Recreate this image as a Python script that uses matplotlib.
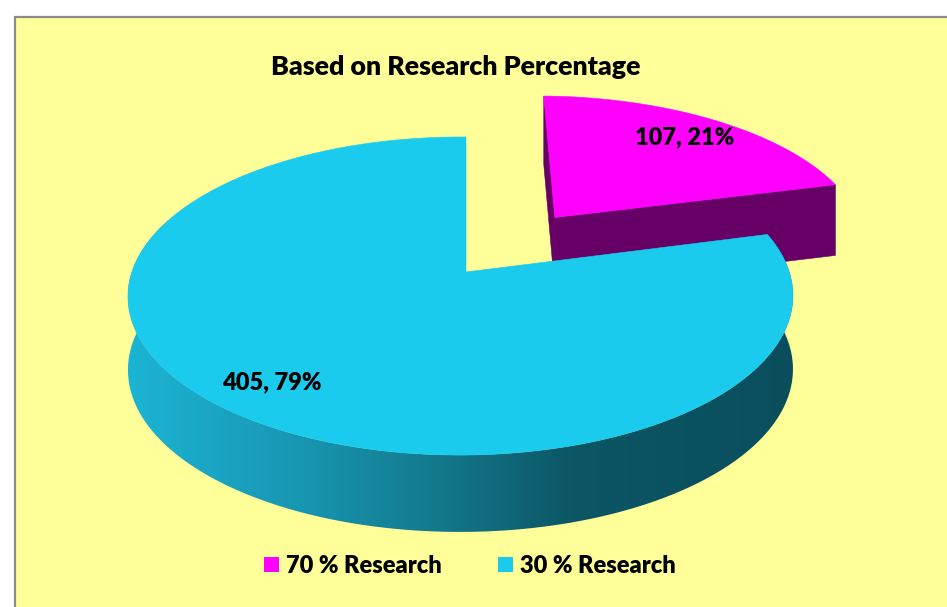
import matplotlib
matplotlib.use("Agg")
import matplotlib.patches as mpatches
import matplotlib.pyplot as plt
import numpy as np
from matplotlib.colors import LinearSegmentedColormap


TITLE = "Based on Research Percentage"
CATEGORIES = ["70 % Research", "30 % Research"]
VALUES = [107, 405]
PERCENTS = [21, 79]

TOP_COLORS = ["#FF00FF", "#1ACBED"]
WALL_COLOR = "#660066"
BG = "#FFFF99"

# pseudo 3d view of the pie, all in pixel units of the 947x607 canvas
CX, CY = 466.0, 272.0
A, B = 328.6, 155.4
K_Y, K_X, K_D = 0.151, 0.0165, 0.05
DEPTH = 73.0
EXPLODE = [0.47, 0.0]
LABEL_R = 0.8

side_cmap = LinearSegmentedColormap.from_list(
    "side",
    [(0.0, "#1CB4D4"), (0.25, "#1897B3"), (0.48, "#127688"), (0.66, "#0C5665"), (1.0, "#0A4E5C")],
)


def project(u, v, t=0.0):
    u = np.asarray(u, dtype=float)
    v = np.asarray(v, dtype=float)
    s = 1.0 / (1.0 + K_Y * v + K_X * u)
    sd = 1.0 / (1.0 + K_D * v)
    return CX + A * u * s, CY - B * v * s + DEPTH * t * sd


def arc(ox, oy, th1, th2, n=200):
    th = np.radians(np.linspace(th1, th2, n))
    return ox + np.cos(th), oy + np.sin(th)


def poly(ax, xs, ys, color, z):
    p = mpatches.Polygon(np.column_stack([xs, ys]), closed=True, facecolor=color,
                         edgecolor=color, lw=0.4, zorder=z)
    ax.add_patch(p)
    return p


def radial_wall(ax, ox, oy, th, color, z):
    ex, ey = ox + np.cos(np.radians(th)), oy + np.sin(np.radians(th))
    x1, y1 = project([ox, ex], [oy, ey], 0.0)
    x2, y2 = project([ex, ox], [ey, oy], 1.0)
    poly(ax, np.r_[x1, x2], np.r_[y1, y2], color, z)


def top_face(ax, ox, oy, th1, th2, color, z):
    u, v = arc(ox, oy, th1, th2)
    xs, ys = project(np.r_[ox, u], np.r_[oy, v], 0.0)
    poly(ax, xs, ys, color, z)


def plot():
    fig = plt.figure(figsize=(9.47, 6.07), dpi=100)
    ax = fig.add_axes([0, 0, 1, 1])
    ax.set_xlim(0, 947)
    ax.set_ylim(607, 0)
    ax.axis("off")

    ax.add_patch(mpatches.Rectangle((15, 17), 940, 600, facecolor=BG,
                                    edgecolor="#8C8C8C", lw=1.6, zorder=0))
    font = {"family": "Lato", "weight": "heavy"}

    total = sum(VALUES)
    starts = []
    ang = 90.0
    for val in VALUES:
        span = 360.0 * val / total
        starts.append((ang, ang - span))
        ang -= span

    # slice 0 (exploded, behind)
    th1, th2 = starts[0]
    mid = np.radians((th1 + th2) / 2)
    ox, oy = EXPLODE[0] * np.cos(mid), EXPLODE[0] * np.sin(mid)
    radial_wall(ax, ox, oy, th1, WALL_COLOR, 2)
    radial_wall(ax, ox, oy, th2, WALL_COLOR, 2)
    top_face(ax, ox, oy, th1, th2, TOP_COLORS[0], 3)
    lx, ly = project(ox + LABEL_R * np.cos(mid), oy + LABEL_R * np.sin(mid))
    ax.text(lx, ly, f"{VALUES[0]}, {PERCENTS[0]}%", ha="center", va="center",
            fontsize=17, zorder=10, **font)

    # slice 1 (front), outer wall with horizontal shading
    th1, th2 = starts[1]
    mid = np.radians((th1 + th2) / 2)
    ox, oy = EXPLODE[1] * np.cos(mid), EXPLODE[1] * np.sin(mid)
    u, v = arc(ox, oy, max(th2, -200.0), th1, 300)
    xt, yt = project(u, v, 0.0)
    xb, yb = project(u, v, 1.0)
    wall = mpatches.Polygon(np.column_stack([np.r_[xt, xb[::-1]], np.r_[yt, yb[::-1]]]),
                            closed=True, facecolor="none", edgecolor="none")
    ax.add_patch(wall)
    grad = np.linspace(0, 1, 512)[None, :]
    im = ax.imshow(grad, cmap=side_cmap, aspect="auto", extent=(128, 800, 560, 100),
                   interpolation="bilinear", zorder=4)
    im.set_clip_path(wall)
    top_face(ax, ox, oy, th1, th2, TOP_COLORS[1], 5)
    lx, ly = project(ox + LABEL_R * np.cos(mid) - 0.04, oy + LABEL_R * np.sin(mid))
    ax.text(lx, ly, f"{VALUES[1]}, {PERCENTS[1]}%", ha="center", va="center",
            fontsize=17, zorder=10, **font)
    ax.set_xlim(0, 947)
    ax.set_ylim(607, 0)

    ax.text(456, 67, TITLE, ha="center", va="center", fontsize=19.3, zorder=10, **font)

    handles = [mpatches.Patch(facecolor=c, edgecolor="none", label=lab)
               for c, lab in zip(TOP_COLORS, CATEGORIES)]
    ax.legend(handles=handles, loc="center", bbox_to_anchor=(470 / 947, 1 - 566 / 607),
              ncol=2, frameon=False, handlelength=0.62, handleheight=0.62,
              handletextpad=0.3, columnspacing=2.4,
              prop={"family": "Lato", "weight": "heavy", "size": 17})

    fig.savefig("out.png", dpi=100, facecolor="white")
    plt.close(fig)


if __name__ == "__main__":
    plot()
